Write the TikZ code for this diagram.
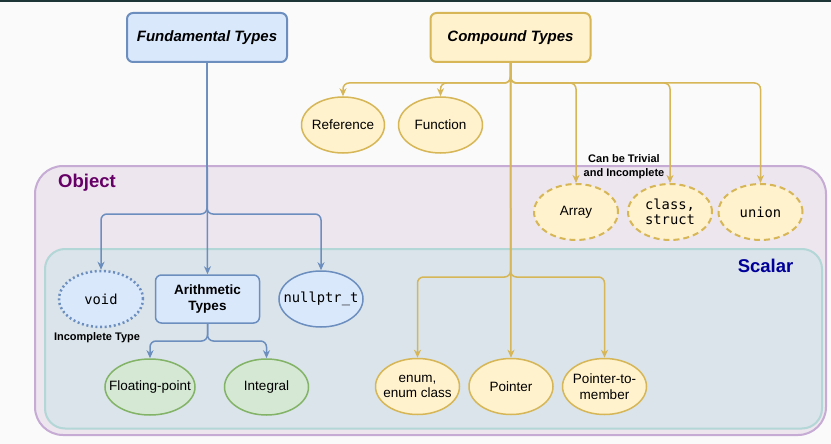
\documentclass[tikz,border=0pt]{standalone}
\usepackage{fontspec}
\setmainfont{Liberation Sans}
\newfontfamily\monofont{DejaVu Sans Mono}
\usetikzlibrary{shapes.geometric,arrows.meta}
\definecolor{bgc}{HTML}{FAFAFA}
\definecolor{topc}{HTML}{1E3538}
\definecolor{bfill}{HTML}{DAE8FC}
\definecolor{bline}{HTML}{6C8EBF}
\definecolor{yfill}{HTML}{FFF2CC}
\definecolor{yline}{HTML}{D6B656}
\definecolor{gfill}{HTML}{D5E8D4}
\definecolor{gline}{HTML}{82B366}
\definecolor{objfill}{HTML}{EDE6EF}
\definecolor{objline}{HTML}{C6ABD4}
\definecolor{scafill}{HTML}{DAE4EA}
\definecolor{scaline}{HTML}{B3D6D6}
\definecolor{objtext}{HTML}{660066}
\definecolor{scatext}{HTML}{000099}
\tikzset{
  fsz/.style={font=\fontsize{13.5}{15.5}\selectfont, align=center, inner sep=0pt},
  msz/.style={font=\monofont\fontsize{13.8}{15.5}\selectfont, align=center, inner sep=0pt},
  topbox/.style={rectangle, rounded corners=6pt, line width=2pt, minimum width=160pt, minimum height=49pt, font=\bfseries\itshape\fontsize{15}{17}\selectfont},
  ell/.style={ellipse, line width=1.5pt, minimum width=84pt, minimum height=56pt, inner sep=0pt},
  yell/.style={ell, fill=yfill, draw=yline},
  bell/.style={ell, fill=bfill, draw=bline},
  gell/.style={ell, fill=gfill, draw=gline},
  ydash/.style={yell, line width=2pt, dash pattern=on 6pt off 4pt},
  bdot/.style={bell, line width=2.5pt, dash pattern=on 2pt off 2.6pt},
  tip/.style={-{Stealth[length=8pt,width=7pt,inset=2.5pt]}},
  bedge/.style={tip, draw=bline, line width=1.5pt, rounded corners=6pt},
  yedge/.style={tip, draw=yline, line width=1.5pt, rounded corners=6pt},
  note/.style={font=\bfseries\fontsize{11}{14}\selectfont, align=center, inner sep=0pt},
  contlabel/.style={font=\bfseries\fontsize{18.5}{20}\selectfont, inner sep=0pt}
}
\begin{document}
\begin{tikzpicture}[x=1pt,y=-1pt]
\useasboundingbox (0,0) rectangle (831,444);
\fill[bgc] (0,0) rectangle (831,444);
\fill[topc] (0,0) rectangle (831,2);

% containers
\draw[fill=objfill, draw=objline, line width=2pt, rounded corners=28pt] (35,166) rectangle (826,435);
\draw[fill=scafill, draw=scaline, line width=2pt, rounded corners=20pt] (45,249) rectangle (822,428.5);
\node[contlabel, text=objtext, anchor=west] (objlbl) at (58,183) {Object};
\node[contlabel, text=scatext, anchor=east] (scalbl) at (793.5,266) {Scalar};

% top boxes
\node[topbox, fill=bfill, draw=bline] (fund) at (207,37.5) {Fundamental Types};
\node[topbox, fill=yfill, draw=yline] (comp) at (510.5,37.5) {Compound Types};

% compound children
\node[yell, minimum width=83pt, label={[fsz]center:Reference}] (ref) at (343,125) {};
\node[yell, label={[fsz]center:Function}] (func) at (440.5,125) {};
\node[ydash, label={[fsz]center:Array}] (array) at (576,212) {};
\node[ydash, label={[msz]center:class,\\struct}] (class) at (670,212) {};
\node[ydash, label={[msz]center:union}] (union) at (760.5,212) {};
\node[note] (trivial) at (624,166.5) {Can be Trivial\\and Incomplete};

% fundamental children
\node[bdot, label={[msz]center:void}] (void) at (101,299) {};
\node[note] (incomplete) at (97,337.5) {Incomplete Type};
\node[rectangle, rounded corners=6pt, fill=bfill, draw=bline, line width=1.5pt, minimum width=104pt, minimum height=48pt, inner sep=0pt, align=center, font=\bfseries\fontsize{13.5}{16}\selectfont] (arith) at (207.5,299) {Arithmetic\\Types};
\node[bell, label={[msz]center:nullptr\_t}] (nullp) at (321,299) {};
\node[gell, minimum width=90pt, label={[fsz]center:Floating-point}] (fp) at (150,387) {};
\node[gell, label={[fsz]center:Integral}] (integ) at (266.5,387) {};

% scalar compound children
\node[yell, label={[fsz]center:enum,\\enum class}] (enum) at (417.5,386.5) {};
\node[yell, label={[fsz]center:Pointer}] (ptr) at (511,386.5) {};
\node[yell, label={[fsz]center:Pointer-to-\\member}] (ptm) at (604.5,386.5) {};

% branch points
\coordinate (fb) at (207,214);
\coordinate (ab) at (207.5,341);
\coordinate (cb) at (510.5,83);
\coordinate (cs) at (510.5,277);

% blue edges
\draw[bedge] (fund.south) -- (fb) -| (void.north);
\draw[bedge] (fund.south) -- (arith.north);
\draw[bedge] (fund.south) -- (fb) -| (nullp.north);
\draw[bedge] (arith.south) -- (ab) -| (fp.north);
\draw[bedge] (arith.south) -- (ab) -| (integ.north);

% yellow edges
\draw[yedge] (comp.south) -- (cb) -| (ref.north);
\draw[yedge] (comp.south) -- (cb) -| (func.north);
\draw[yedge] (comp.south) -- (cb) -| (array.north);
\draw[yedge] (comp.south) -- (cb) -| (class.north);
\draw[yedge] (comp.south) -- (cb) -| (union.north);
\draw[yedge] (comp.south) -- (cs) -| (enum.north);
\draw[yedge] (comp.south) -- (ptr.north);
\draw[yedge] (comp.south) -- (cs) -| (ptm.north);
\end{tikzpicture}
\end{document}
